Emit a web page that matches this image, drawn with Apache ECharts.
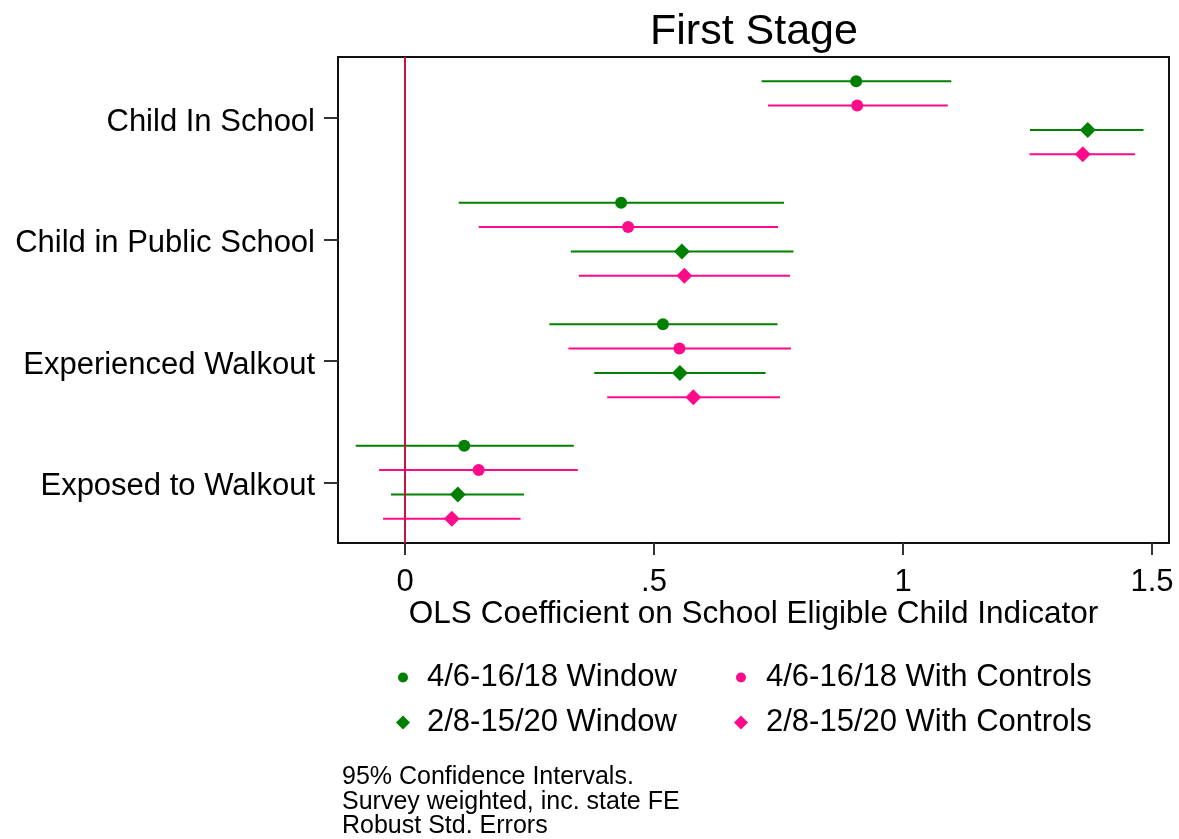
<!DOCTYPE html>
<html>
<head>
<meta charset="utf-8">
<title>First Stage</title>
<script src="https://cdn.jsdelivr.net/npm/echarts@6/dist/echarts.min.js"></script>
<style>
  html, body { margin: 0; padding: 0; background: #fff; }
  #chart { width: 1179px; height: 839px; }
</style>
</head>
<body>
<div id="chart"></div>
<script>
// Outcomes (one block of four estimates each, top to bottom)
const outcomes = ['Child In School', 'Child in Public School', 'Experienced Walkout', 'Exposed to Walkout'];

// Model names as shown in the legend
const models = ['4/6-16/18 Window', '4/6-16/18 With Controls', '2/8-15/20 Window', '2/8-15/20 With Controls'];

// Point estimates and 95% CI bounds, per model, in outcome order
const estW1 = [0.906, 0.434, 0.518, 0.119];
const loW1  = [0.716, 0.108, 0.290, -0.099];
const hiW1  = [1.097, 0.761, 0.748, 0.339];

const estC1 = [0.908, 0.448, 0.551, 0.148];
const loC1  = [0.729, 0.148, 0.328, -0.052];
const hiC1  = [1.090, 0.749, 0.775, 0.347];

const estW2 = [1.371, 0.556, 0.552, 0.106];
const loW2  = [1.255, 0.333, 0.380, -0.028];
const hiW2  = [1.483, 0.780, 0.724, 0.239];

const estC2 = [1.361, 0.561, 0.579, 0.094];
const loC2  = [1.254, 0.349, 0.406, -0.044];
const hiC2  = [1.466, 0.773, 0.753, 0.232];

// x-axis tick values
const xTicks = [0, 0.5, 1, 1.5];

const GREEN = '#008000';
const PINK = '#ff0a8a';
const FONT = '"Liberation Sans", Arial, sans-serif';

// Each outcome occupies 5 row slots; the four models sit on slots 1..4
const SLOTS = 5;
const rowOf = (g, k) => g * SLOTS + k + 1;
const labelPos = outcomes.map((_, g) => g * SLOTS + SLOTS / 2);

const modelSpecs = [
  { est: estW1, lo: loW1, hi: hiW1, color: GREEN, symbol: 'circle', size: 12 },
  { est: estC1, lo: loC1, hi: hiC1, color: PINK, symbol: 'circle', size: 12 },
  { est: estW2, lo: loW2, hi: hiW2, color: GREEN, symbol: 'diamond', size: 16 },
  { est: estC2, lo: loC2, hi: hiC2, color: PINK, symbol: 'diamond', size: 16 }
];

const series = [];

modelSpecs.forEach((m, k) => {
  // confidence interval bars
  series.push({
    type: 'custom',
    name: 'ci' + k,
    silent: true,
    z: 2,
    data: outcomes.map((_, g) => [m.lo[g], m.hi[g], rowOf(g, k)]),
    encode: { x: [0, 1], y: 2 },
    renderItem: function (params, api) {
      const a = api.coord([api.value(0), api.value(2)]);
      const b = api.coord([api.value(1), api.value(2)]);
      return {
        type: 'line',
        shape: { x1: a[0], y1: a[1], x2: b[0], y2: b[1] },
        style: { stroke: m.color, lineWidth: 2 }
      };
    },
    markLine: k === 0 ? {
      silent: true,
      symbol: 'none',
      label: { show: false },
      lineStyle: { color: '#cc1040', width: 2, type: 'solid' },
      data: [{ xAxis: 0 }]
    } : undefined
  });
  // point estimates
  series.push({
    type: 'scatter',
    name: models[k],
    symbol: m.symbol,
    symbolSize: m.size,
    z: 3,
    itemStyle: { color: m.color, opacity: 1 },
    data: outcomes.map((_, g) => [m.est[g], rowOf(g, k)])
  });
});

function legendFor(k, left, top, size, gap) {
  return {
    data: [{ name: models[k], icon: modelSpecs[k].symbol }],
    left: left,
    top: top,
    padding: 0,
    itemWidth: size,
    itemHeight: size,
    selectedMode: false,
    textStyle: { fontFamily: FONT, fontSize: 31, color: '#000', padding: [0, 0, 0, gap] }
  };
}

const option = {
  backgroundColor: '#fff',
  animation: false,
  title: [
    {
      text: 'First Stage',
      left: 650,
      top: 11,
      padding: 0,
      textStyle: { fontFamily: FONT, fontSize: 43, fontWeight: 'normal', color: '#000' }
    },
    {
      text: '95% Confidence Intervals.\nSurvey weighted, inc. state FE\nRobust Std. Errors',
      left: 342,
      top: 765,
      padding: 0,
      textStyle: { fontFamily: FONT, fontSize: 25, lineHeight: 24.5, fontWeight: 'normal', color: '#000' }
    }
  ],
  legend: [
    legendFor(0, 398, 662, 10, 14),
    legendFor(1, 736, 662, 10, 15),
    legendFor(2, 396, 707, 14, 12),
    legendFor(3, 734, 707, 14, 13)
  ],
  grid: {
    left: 338,
    top: 57,
    width: 831,
    height: 486,
    show: true,
    borderColor: '#111',
    borderWidth: 2,
    backgroundColor: '#fff',
    containLabel: false,
    outerBoundsMode: 'none'
  },
  xAxis: {
    type: 'value',
    position: 'bottom',
    min: -67 / 498,
    max: 764 / 498,
    axisLine: { show: false, onZero: false },
    splitLine: { show: false },
    axisTick: {
      show: true,
      inside: false,
      length: 12,
      customValues: xTicks,
      lineStyle: { color: '#333', width: 2 }
    },
    axisLabel: {
      customValues: xTicks,
      margin: 24,
      fontFamily: FONT,
      fontSize: 31,
      color: '#000',
      formatter: v => (v === 0 ? '0' : String(v).replace(/^0\./, '.'))
    },
    name: 'OLS Coefficient on School Eligible Child Indicator',
    nameLocation: 'middle',
    nameGap: 55,
    nameMoveOverlap: false,
    nameTextStyle: { fontFamily: FONT, fontSize: 31.5, color: '#000' }
  },
  yAxis: {
    type: 'value',
    position: 'left',
    min: 0,
    max: outcomes.length * SLOTS,
    inverse: true,
    axisLine: { show: false, onZero: false },
    splitLine: { show: false },
    axisTick: {
      show: true,
      inside: false,
      length: 14,
      customValues: labelPos,
      lineStyle: { color: '#333', width: 2 }
    },
    axisLabel: {
      customValues: labelPos,
      margin: 23,
      fontFamily: FONT,
      fontSize: 31,
      color: '#000',
      formatter: v => '{o|' + (outcomes[Math.round((v - SLOTS / 2) / SLOTS)] || '') + '}',
      rich: {
        o: { fontFamily: FONT, fontSize: 31, color: '#000', padding: [9, 0, 0, 0] }
      }
    }
  },
  series: series
};

const chart = echarts.init(document.getElementById('chart'), null, { renderer: 'canvas' });
chart.setOption(option);
</script>
</body>
</html>
